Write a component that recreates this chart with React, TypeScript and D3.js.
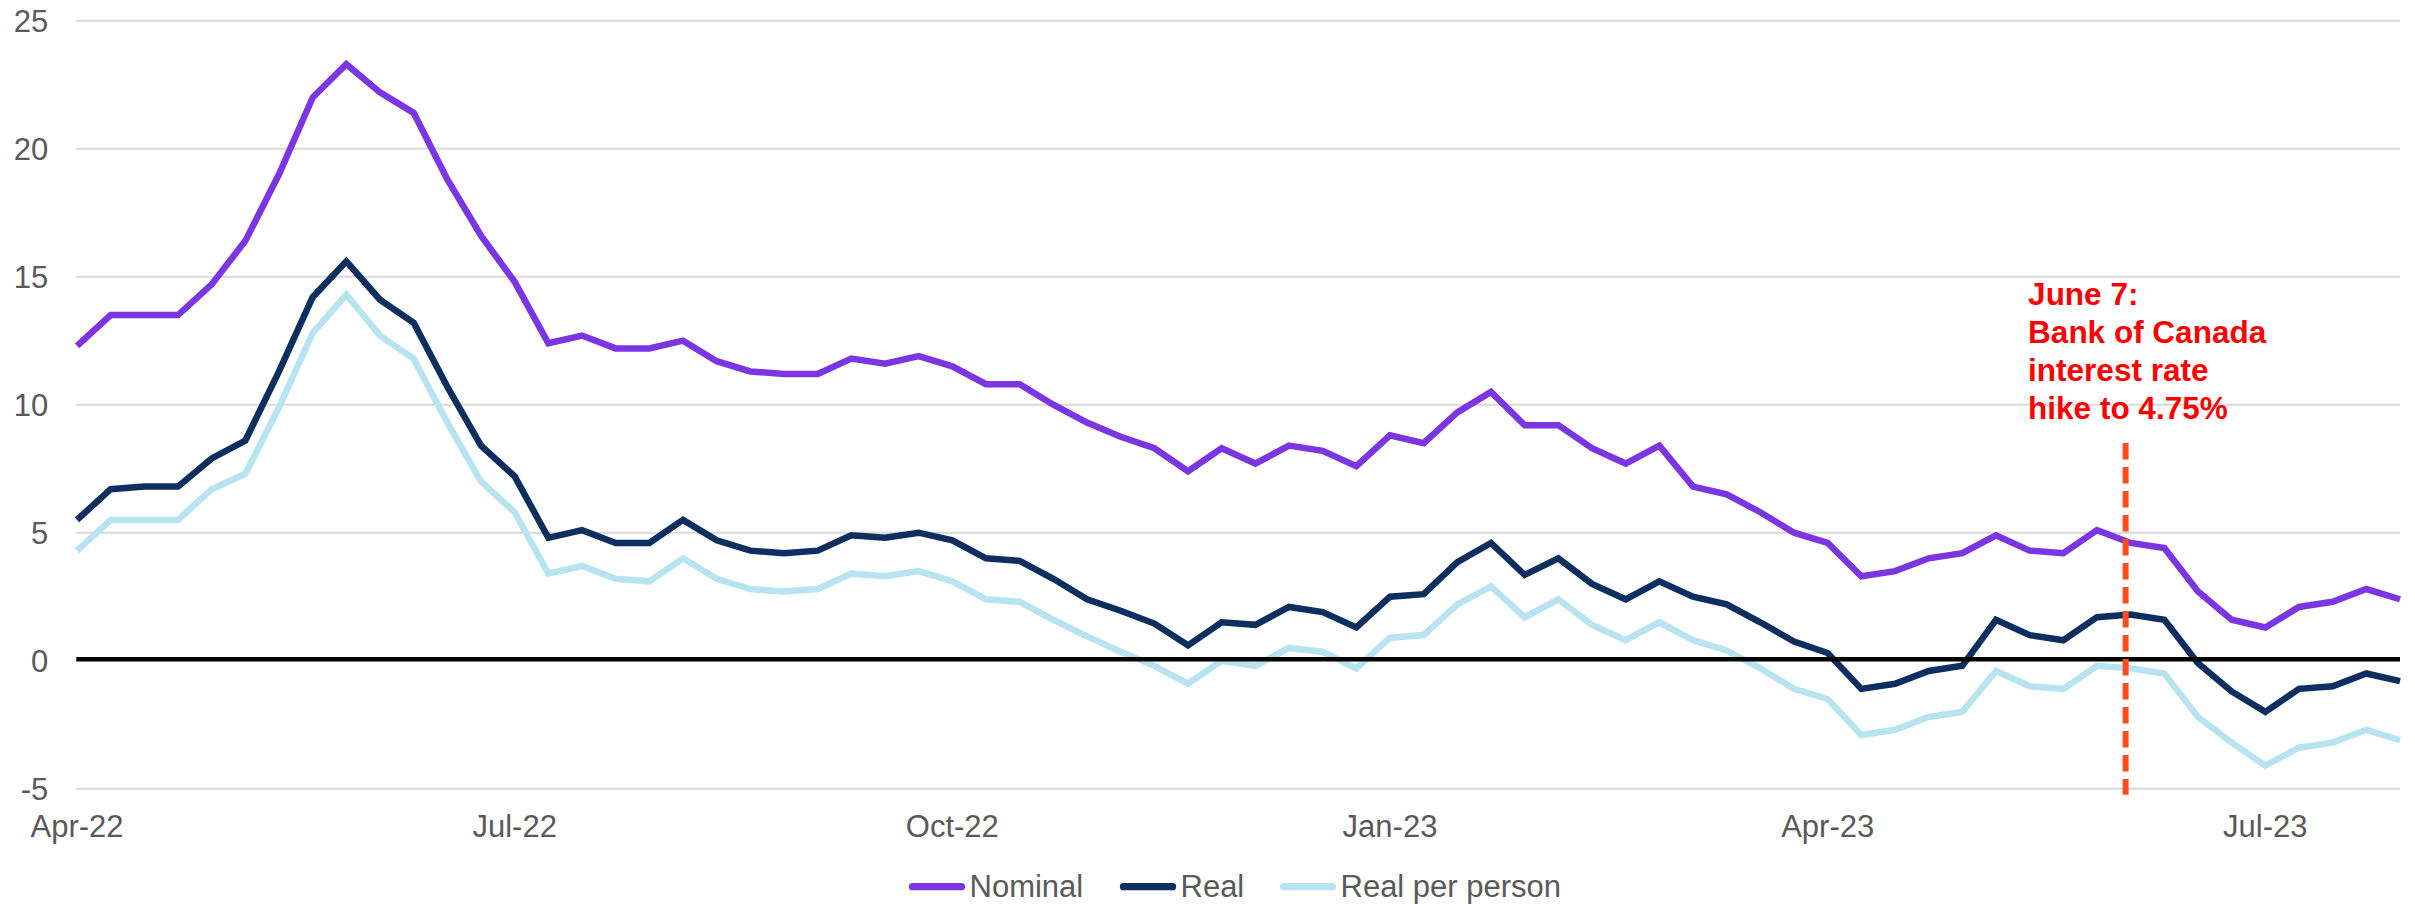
import React from "react";
import * as d3 from "d3";

const tickLabels = ["Apr-22", "Jul-22", "Oct-22", "Jan-23", "Apr-23", "Jul-23"];
const tickIndex = [0, 13, 26, 39, 52, 65];

const nominal = [
  12.3, 13.5, 13.5, 13.5, 14.7, 16.4, 19.0, 22.0, 23.3, 22.2,
  21.4, 18.8, 16.6, 14.8, 12.4, 12.7, 12.2, 12.2, 12.5, 11.7,
  11.3, 11.2, 11.2, 11.8, 11.6, 11.9, 11.5, 10.8, 10.8, 10.0,
  9.3, 8.75, 8.3, 7.4, 8.3, 7.7, 8.4, 8.2, 7.6, 8.8,
  8.5, 9.7, 10.5, 9.2, 9.2, 8.3, 7.7, 8.4, 6.8, 6.5,
  5.8, 5.0, 4.6, 3.3, 3.5, 4.0, 4.2, 4.9, 4.3, 4.2,
  5.1, 4.6, 4.4, 2.7, 1.6, 1.3, 2.1, 2.3, 2.8, 2.4,
];

const real = [
  5.5, 6.7, 6.8, 6.8, 7.9, 8.6, 11.3, 14.2, 15.6, 14.1,
  13.2, 10.7, 8.4, 7.2, 4.8, 5.1, 4.6, 4.6, 5.5, 4.7,
  4.3, 4.2, 4.3, 4.9, 4.8, 5.0, 4.7, 4.0, 3.9, 3.2,
  2.4, 1.95, 1.45, 0.6, 1.5, 1.4, 2.1, 1.9, 1.3, 2.5,
  2.6, 3.85, 4.6, 3.35, 4.0, 3.0, 2.4, 3.1, 2.5, 2.2,
  1.5, 0.75, 0.3, -1.1, -0.9, -0.4, -0.2, 1.6, 1.0, 0.8,
  1.7, 1.8, 1.6, -0.1, -1.2, -2.0, -1.1, -1.0, -0.5, -0.8,
];

const realPerPerson = [
  4.3, 5.5, 5.5, 5.5, 6.7, 7.3, 9.9, 12.8, 14.3, 12.7,
  11.8, 9.3, 7.0, 5.8, 3.4, 3.7, 3.2, 3.1, 4.0, 3.2,
  2.8, 2.7, 2.8, 3.4, 3.3, 3.5, 3.1, 2.4, 2.3, 1.6,
  0.95, 0.35, -0.2, -0.9, 0.0, -0.2, 0.5, 0.35, -0.3, 0.9,
  1.0, 2.2, 2.9, 1.7, 2.4, 1.4, 0.8, 1.5, 0.8, 0.4,
  -0.3, -1.1, -1.5, -2.9, -2.7, -2.2, -2.0, -0.4, -1.0, -1.1,
  -0.2, -0.3, -0.5, -2.2, -3.2, -4.1, -3.4, -3.2, -2.7, -3.1,
];

const yTicks = [-5, 0, 5, 10, 15, 20, 25];
const eventIndex = 60.85;
const eventTop = 8.5;
const annotationLines = ["June 7:", "Bank of Canada", "interest rate", "hike to 4.75%"];

const seriesNames = ["Nominal", "Real", "Real per person"];
const seriesColors = ["#7B35E2", "#0D2F5F", "#B8E3F0"];
const seriesData = [nominal, real, realPerPerson];

const W = 2415;
const H = 904;
const FONT = "'Liberation Sans', Arial, sans-serif";

export default function App() {
  const x = d3.scaleLinear().domain([0, nominal.length - 1]).range([77, 2400]);
  const y = d3.scaleLinear().domain([-5, 25]).range([788.7, 20.7]);
  const line = d3
    .line<number>()
    .x((_, i) => x(i))
    .y((d) => y(d))
    .curve(d3.curveLinear);

  const legendX = [909, 1120, 1280];

  return (
    <svg
      width={W}
      height={H}
      style={{ position: "absolute", left: 0, top: 0, background: "#fff" }}
      fontFamily={FONT}
    >
      {yTicks.map((t) => (
        <g key={t}>
          {t !== 0 && (
            <line x1={76.3} x2={2400} y1={y(t)} y2={y(t)} stroke="#D9D9D9" strokeWidth={2} />
          )}
          <text
            x={48.3}
            y={y(t)}
            dy="0.35em"
            textAnchor="end"
            fontSize={31}
            fill="#595959"
          >
            {t}
          </text>
        </g>
      ))}
      {tickIndex.map((ti, k) => (
        <text
          key={ti}
          x={x(ti)}
          y={836.7}
          textAnchor="middle"
          fontSize={31}
          fill="#595959"
        >
          {tickLabels[k]}
        </text>
      ))}
      {seriesData.map((s, k) => (
        <path
          key={k}
          d={line(s) || ""}
          fill="none"
          stroke={seriesColors[k]}
          strokeWidth={6.5}
          strokeLinejoin="miter"
        />
      ))}
      <line x1={76.3} x2={2400} y1={y(0) - 1.5} y2={y(0) - 1.5} stroke="#000" strokeWidth={4.5} />
      <line
        x1={x(eventIndex)}
        x2={x(eventIndex)}
        y1={y(eventTop)}
        y2={y(-5) + 6}
        stroke="#FF4B1F"
        strokeWidth={6}
        strokeDasharray="16.5 7.5"
      />
      {annotationLines.map((l, k) => (
        <text
          key={k}
          x={x(eventIndex) - 97.5}
          y={304.5 + k * 38}
          fontSize={31.5}
          fontWeight="bold"
          fill="#FF0000"
        >
          {l}
        </text>
      ))}
      {seriesNames.map((n, k) => (
        <g key={n}>
          <line
            x1={legendX[k] + 3.5}
            x2={legendX[k] + 52.5}
            y1={886.7}
            y2={886.7}
            stroke={seriesColors[k]}
            strokeWidth={7.3}
            strokeLinecap="round"
          />
          <text x={legendX[k] + 60.5} y={897} fontSize={31} fill="#595959">
            {n}
          </text>
        </g>
      ))}
    </svg>
  );
}
